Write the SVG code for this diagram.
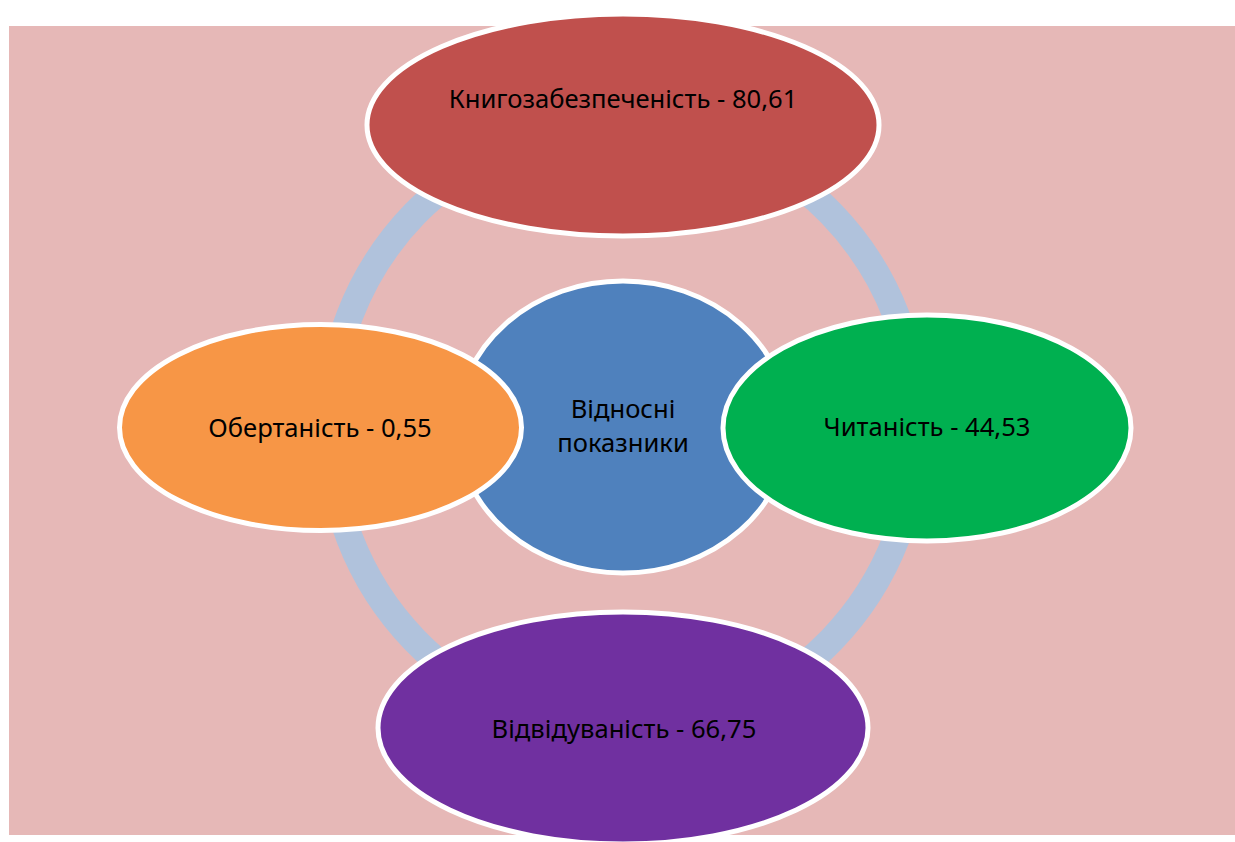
<svg xmlns="http://www.w3.org/2000/svg" width="1235" height="842" viewBox="0 0 1235 842">
  <style>
    .node { stroke: #FFFFFF; stroke-width: 5; }
    .label { font-family: "Noto Sans", "DejaVu Sans", sans-serif; font-size: 25.6px; fill: #000000; text-anchor: middle; }
    .ring { fill: none; stroke: #B0C2DC; stroke-width: 27; }
  </style>
  <rect x="0" y="0" width="1235" height="842" fill="#FFFFFF"/>
  <rect x="9" y="26" width="1226" height="809" fill="#E6B8B7"/>
  <g id="connectors">
    <ellipse class="ring" cx="623" cy="427" rx="294" ry="302"/>
  </g>
  <g id="node-center">
    <ellipse class="node" cx="623" cy="427" rx="166" ry="146" fill="#4F81BD"/>
    <text class="label" x="623" y="418">Відносні</text>
    <text class="label" x="623" y="452">показники</text>
  </g>
  <g id="node-top">
    <ellipse class="node" cx="623" cy="125" rx="256" ry="111" fill="#C0504D"/>
    <text class="label" x="623" y="108">Книгозабезпеченість - 80,61</text>
  </g>
  <g id="node-left">
    <ellipse class="node" cx="320.5" cy="427.5" rx="201" ry="103" fill="#F79646"/>
    <text class="label" x="320" y="437">Обертаність - 0,55</text>
  </g>
  <g id="node-right">
    <ellipse class="node" cx="927" cy="428" rx="204" ry="113" fill="#00B050"/>
    <text class="label" x="927" y="436">Читаність - 44,53</text>
  </g>
  <g id="node-bottom">
    <ellipse class="node" cx="623" cy="728" rx="245" ry="116" fill="#7030A0"/>
    <text class="label" x="624" y="738">Відвідуваність - 66,75</text>
  </g>
</svg>
